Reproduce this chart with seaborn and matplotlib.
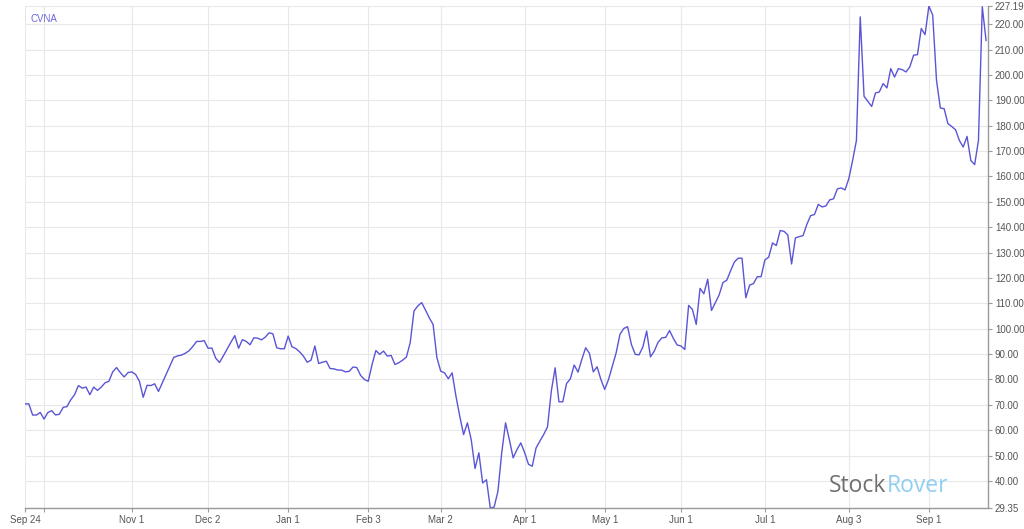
import matplotlib.pyplot as plt
import numpy as np
import pandas as pd
import seaborn as sns

# daily closes, Sep 24 2019 -> Sep 23 2020 (trading days)
price_part1 = [70.4, 70.4, 66, 66, 67, 64.4, 67, 67.7, 66, 66.3,
               69, 69.3, 72, 74, 77.6, 76.6, 77, 74, 77, 75.7,
               77, 78.7, 79.3, 83, 84.7, 82.7, 81, 82.7, 83, 82,
               79.3, 73, 77.7, 77.6, 78.3, 75.3, 78.7, 82, 85.3, 88.7,
               89.3, 89.6, 90.3, 91.3, 93, 95, 95, 95.3, 92.3, 92.4,
               88.4, 86.7, 89.3, 92, 94.7, 97.3, 92.3, 95.7, 95, 93.7,
               96.4, 96.3, 95.6, 96.7, 98.4]
price_part2 = [98, 92.5, 92.1, 92.1, 97.1, 92.9, 92.2, 90.9, 89.2, 86.8,
               87.6, 93.2, 86.3, 86.8, 87.2, 84.3, 84.2, 83.7, 83.7, 83,
               83.2, 84.9, 84.7, 81.6, 80, 79.3, 85.9, 91.4, 89.9, 91.2,
               89.2, 89.5, 85.9, 86.6, 87.6, 88.8, 94.5, 107, 109, 110.3,
               107.4, 104.3, 101.7, 88.6, 83.3, 82.6, 80.3, 82.6, 73.4, 65.5,
               58.3, 62.9, 56.3, 44.9, 51.1, 39.2, 40.5, 29.35, 29.7, 35.9,
               51.1, 62.9, 56.3, 49.1, 52.4, 55, 51.2]
price_part3 = [46.6, 45.8, 53.0, 55.7, 58.3, 61.3, 75.4, 84.6, 71.2, 71.2,
               78.4, 80.3, 85.7, 82.9, 87.9, 92.5, 90.3, 83.0, 85.0, 80.0,
               76.1, 80.0, 85.3, 90.5, 97.8, 100.1, 100.8, 93.8, 89.9, 89.7,
               92.8, 99.1, 88.9, 91.2, 94.7, 96.4, 96.6, 99.3, 96.2, 93.6,
               93.2, 91.8, 109.2, 107.6, 101.7, 115.9, 113.8, 119.5, 107.2, 110.3,
               113.3, 118.2, 119.1, 122.8, 126.3, 127.8, 127.8, 112.2, 117.2, 117.8,
               120.5, 120.5, 127.1]
price_part4 = [128.2, 133.8, 132.8, 138.7, 138.4, 137, 125.5, 135.8, 136.3, 136.7,
               141.1, 144.6, 145, 149, 148, 148.4, 150.8, 151.2, 155.1, 155.5,
               154.7, 159.1, 166.3, 174.2, 222.9, 191.6, 189.6, 187.6, 192.9, 193.3,
               196.6, 194.9, 202.5, 199.2, 202.5, 202.1, 201.2, 203.2, 207.8, 208,
               218.3, 215.9, 227.19, 223.6, 197.9, 187, 186.7, 180.8, 179.7, 178.4,
               174.2, 171.6, 175.8, 166.3, 164.7, 174.2, 226.9, 213.5]

holidays = ["2019-11-28", "2019-12-25", "2020-01-01", "2020-01-20", "2020-02-17",
            "2020-04-10", "2020-05-25", "2020-07-03", "2020-09-07"]
tick_dates = ["2019-09-24", "2019-10-01", "2019-11-01", "2019-12-02", "2020-01-01",
              "2020-02-03", "2020-03-02", "2020-04-01", "2020-05-01", "2020-06-01",
              "2020-07-01", "2020-08-03", "2020-09-01"]
tick_labels = ["Sep 24", "", "Nov 1", "Dec 2", "Jan 1", "Feb 3", "Mar 2",
               "Apr 1", "May 1", "Jun 1", "Jul 1", "Aug 3", "Sep 1"]
ticker = "CVNA"

LINE = "#5a55d6"
GRID = "#e8e8e8"
AXIS = "#9a9a9a"
TEXT = "#555555"

prices = np.array(price_part1 + price_part2 + price_part3 + price_part4)
dates = pd.bdate_range("2019-09-24", periods=len(prices), freq="C", holidays=holidays)
df = pd.DataFrame({"day": np.arange(len(prices)), "close": prices})

sns.set_theme(style="white")
plt.rcParams["font.family"] = ["Liberation Sans", "DejaVu Sans"]

fig = plt.figure(figsize=(10.24, 5.29), dpi=100)
ax = fig.add_axes([25 / 1024, 1 - 508 / 529, 963 / 1024, 502 / 529])

sns.lineplot(data=df, x="day", y="close", ax=ax, color=LINE, linewidth=1.0)

lo, hi = prices.min(), prices.max()
ax.set_ylim(lo, hi)
ax.set_xlim(0, len(prices) - 0.5)

yticks = [lo] + list(range(40, 230, 10)) + [hi]
ax.yaxis.tick_right()
ax.set_yticks(yticks)
ax.set_yticklabels([f"{v:.2f}" for v in yticks])

tick_pos = dates.searchsorted(pd.to_datetime(tick_dates))
ax.set_xticks(tick_pos)
ax.set_xticklabels(tick_labels)

ax.grid(True, color=GRID, linewidth=0.8)
ax.set_axisbelow(True)
for side in ["top", "left"]:
    ax.spines[side].set_visible(False)
for side in ["bottom", "right"]:
    ax.spines[side].set_color(AXIS)
    ax.spines[side].set_linewidth(1.0)
ax.tick_params(axis="both", which="both", length=3, width=0.8, color=AXIS,
               labelsize=7, labelcolor=TEXT, pad=2,
               bottom=True, right=True, left=False)
ax.set_xlabel("")
ax.set_ylabel("")

ax.text(0.006, 0.985, ticker, transform=ax.transAxes, color="#6a66dd",
        fontsize=7, ha="left", va="top")

# StockRover watermark
stock = fig.text(829 / 1024, 1 - 492 / 529, "Stock", color="#707070",
                 fontsize=16.5, family="Open Sans", ha="left", va="baseline")
ax.annotate("Rover", xy=(1, 0), xycoords=stock, color="#8fcff2",
            fontsize=16.5, family="Open Sans", ha="left", va="bottom",
            annotation_clip=False)

fig.savefig("out.png", dpi=100)
